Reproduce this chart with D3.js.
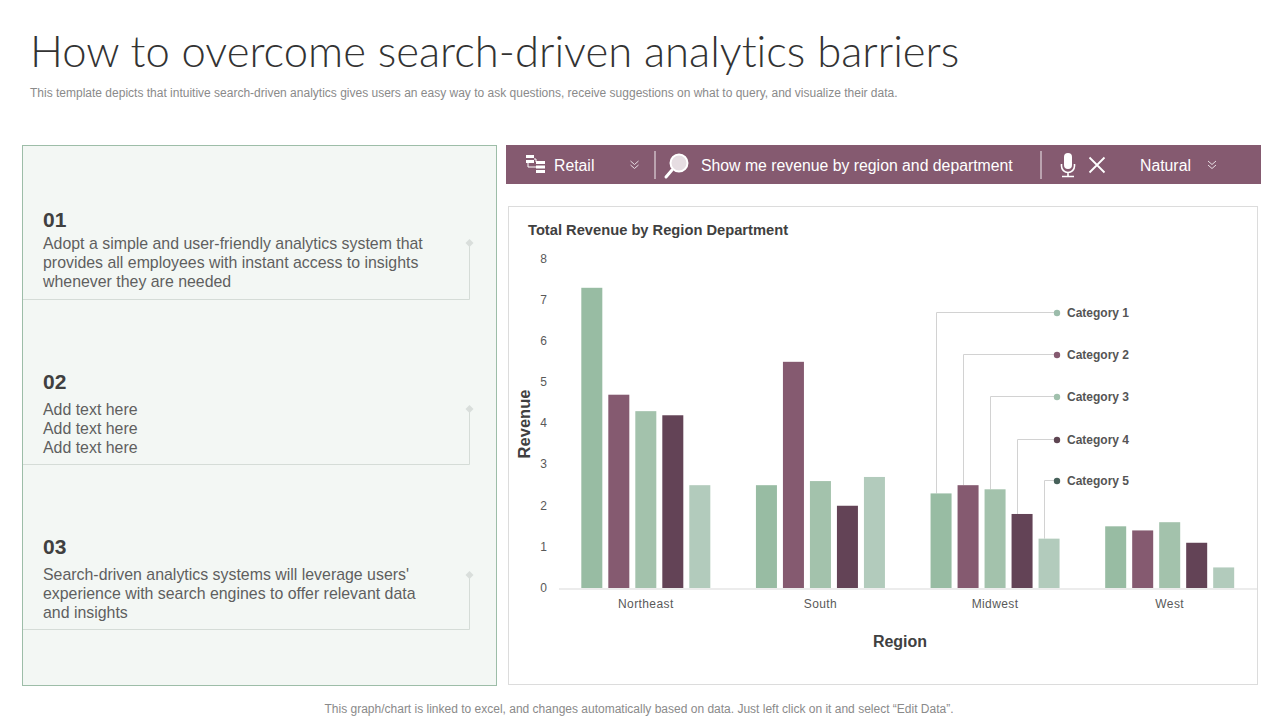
<!DOCTYPE html>
<html>
<head>
<meta charset="utf-8">
<script src="https://cdnjs.cloudflare.com/ajax/libs/d3/7.8.5/d3.min.js"></script>
<style>
  html, body { margin: 0; padding: 0; background: #fff; }
  svg { display: block; }
  text { font-family: "Liberation Sans", Arial, sans-serif; }
</style>
</head>
<body>
<div id="chart"></div>
<script>
const regions = ["Northeast", "South", "Midwest", "West"];
const categories = ["Category 1", "Category 2", "Category 3", "Category 4", "Category 5"];
const category1 = [7.3, 2.5, 2.3, 1.5];
const category2 = [4.7, 5.5, 2.5, 1.4];
const category3 = [4.3, 2.6, 2.4, 1.6];
const category4 = [4.2, 2.0, 1.8, 1.1];
const category5 = [2.5, 2.7, 1.2, 0.5];
const seriesValues = [category1, category2, category3, category4, category5];
const yTicks = [0, 1, 2, 3, 4, 5, 6, 7, 8];

const barColors = ["#98bca3", "#855a70", "#a3c2ac", "#634356", "#b2cbbc"];
const dotColors = ["#9cbcab", "#855a70", "#a0c0ac", "#5e4552", "#47615a"];
const legendY = [313, 355, 397, 440, 481];

const panelTexts = [
  { num: "01", y: 220, textY: 249, lines: ["Adopt a simple and user-friendly analytics system that", "provides all employees with instant access to insights", "whenever they are needed"], lineEnd: 299.5, dotY: 243 },
  { num: "02", y: 382, textY: 415, lines: ["Add text here", "Add text here", "Add text here"], lineEnd: 464.5, dotY: 409 },
  { num: "03", y: 547, textY: 580, lines: ["Search-driven analytics systems will leverage users'", "experience with search engines to offer relevant data", "and insights"], lineEnd: 629.5, dotY: 575 }
];

const svg = d3.select("#chart").append("svg")
  .attr("width", 1280)
  .attr("height", 720);

// heading
svg.append("text").attr("x", 30).attr("y", 67)
  .style("font-family", "Lato, sans-serif").style("font-weight", 300)
  .style("font-size", "43.6px").style("font-variant-ligatures", "none").attr("fill", "#333")
  .text("How to overcome search-driven analytics barriers");
svg.append("text").attr("x", 30).attr("y", 97)
  .style("font-size", "12px").attr("fill", "#8a8a8a")
  .text("This template depicts that intuitive search-driven analytics gives users an easy way to ask questions, receive suggestions on what to query,  and visualize their data.");

// left panel
svg.append("rect").attr("x", 22.5).attr("y", 145.5).attr("width", 474).attr("height", 540)
  .attr("fill", "#f3f7f4").attr("stroke", "#9dbda8");

panelTexts.forEach(p => {
  svg.append("text").attr("x", 43).attr("y", p.y + 7)
    .style("font-size", "21px").style("font-weight", "bold").attr("fill", "#404040")
    .text(p.num);
  svg.append("g").selectAll("text").data(p.lines).join("text")
    .attr("x", 43)
    .attr("y", (d, i) => p.textY + i * 19)
    .style("font-size", "15.9px").attr("fill", "#5f5f5f")
    .text(d => d);
  svg.append("path")
    .attr("d", `M23,${p.lineEnd}H469.5V${p.dotY}`)
    .attr("fill", "none").attr("stroke", "#d5dcd7");
  svg.append("path")
    .attr("d", `M469.5,${p.dotY - 4}l4,4l-4,4l-4,-4z`)
    .attr("fill", "#d9dedb");
});

// search bar
const bar = svg.append("g");
bar.append("rect").attr("x", 506).attr("y", 145).attr("width", 755).attr("height", 39).attr("fill", "#855a70");
const barText = (x, t) => bar.append("text").attr("x", x).attr("y", 171)
  .style("font-size", "15.8px").attr("fill", "#fff").text(t);
barText(554, "Retail");
barText(701, "Show me revenue by region and department");
barText(1140, "Natural");

[655, 1041].forEach(x => bar.append("line").attr("x1", x).attr("x2", x).attr("y1", 151).attr("y2", 179)
  .attr("stroke", "#f1ecef").attr("stroke-width", 1));

// chevrons
[634.5, 1212].forEach(x => {
  [161, 165].forEach(y => bar.append("path")
    .attr("d", `M${x - 4},${y}l4,3.5l4,-3.5`).attr("fill", "none")
    .attr("stroke", "#e8dfe4").attr("stroke-width", 1));
});

// tree icon
bar.append("path").attr("d", "M526,155h8v3h-8zM526,160h8v3h-8zM536,161h9v3h-9zM536,165.500h9v3h-9zM536,170h9v3h-9z").attr("fill", "#fff");
bar.append("path").attr("d", "M528,163v4h8M534,159h2v3").attr("fill", "none").attr("stroke", "#fff");

// magnifier icon
bar.append("circle").attr("cx", 679).attr("cy", 163).attr("r", 8.5).attr("fill", "#e6dde2").attr("stroke", "#fff").attr("stroke-width", 2);
bar.append("line").attr("x1", 672).attr("y1", 170).attr("x2", 666).attr("y2", 177).attr("stroke", "#fff").attr("stroke-width", 3).attr("stroke-linecap", "round");

// mic icon
bar.append("rect").attr("x", 1064).attr("y", 153).attr("width", 8).attr("height", 16).attr("rx", 4).attr("fill", "#fff");
bar.append("path").attr("d", "M1061.500,164v2a6.500,6.500 0 0 0 13,0v-2M1068,173v3M1062,176.500h12").attr("fill", "none").attr("stroke", "#fff").attr("stroke-width", 1.6);

// close icon
bar.append("path").attr("d", "M1089.500,157.500L1104.500,172.500M1104.500,157.500L1089.500,172.500").attr("stroke", "#fff").attr("stroke-width", 1.8);

// chart box
svg.append("rect").attr("x", 508.500).attr("y", 206.500).attr("width", 749).attr("height", 478)
  .attr("fill", "#fff").attr("stroke", "#dcdcdc");
svg.append("text").attr("x", 528).attr("y", 234.5)
  .style("font-size", "14.7px").style("font-weight", "bold").attr("fill", "#404040")
  .text("Total Revenue by Region Department");

// scales
const x0 = d3.scaleBand().domain(regions).range([558.5, 1257]);
const x1 = d3.scaleBand().domain(categories).range([0, x0.bandwidth()])
  .paddingInner(0.222).paddingOuter(0.845);
const y = d3.scaleLinear().domain([0, 8]).range([588, 259]);

// leader lines go under the bars, they start left of the bar centre
const leaders = svg.append("g");
categories.forEach((c, i) => {
  const bx = x0("Midwest") + x1(c) + x1.bandwidth() / 2 - 5.5;
  leaders.append("path")
    .attr("d", `M${Math.round(bx) + 0.5},${y(seriesValues[i][2])}V${legendY[i] - 0.5}H1056`)
    .attr("fill", "none").attr("stroke", "#d2d2d2");
});

// bars
const groups = svg.append("g").selectAll("g").data(categories).join("g")
  .attr("fill", (d, i) => barColors[i]);
groups.selectAll("rect").data((d, i) => regions.map((r, j) => ({ r, c: d, v: seriesValues[i][j] })))
  .join("rect")
  .attr("x", d => x0(d.r) + x1(d.c))
  .attr("y", d => y(d.v))
  .attr("width", x1.bandwidth())
  .attr("height", d => y(0) - y(d.v));

// axes
const xAxis = svg.append("g").attr("transform", "translate(0,588.5)")
  .call(d3.axisBottom(x0).tickSize(0).tickPadding(11));
xAxis.select(".domain").attr("stroke", "#d9d9d9");
xAxis.selectAll("text").style("font-size", "12px").style("font-family", "Liberation Sans").style("letter-spacing", "0.4px").attr("fill", "#595959");

const yAxis = svg.append("g").attr("transform", "translate(547,-0.5)")
  .call(d3.axisLeft(y).tickValues(yTicks).tickSize(0).tickPadding(0));
yAxis.select(".domain").remove();
yAxis.selectAll("text").style("font-size", "12px").style("font-family", "Liberation Sans").attr("fill", "#595959");

svg.append("text").attr("transform", "translate(530,424) rotate(-90)").attr("text-anchor", "middle")
  .style("font-size", "16.500px").style("font-weight", "bold").attr("fill", "#404040").text("Revenue");
svg.append("text").attr("x", 900).attr("y", 647).attr("text-anchor", "middle")
  .style("font-size", "16px").style("font-weight", "bold").attr("fill", "#404040").text("Region");

// legend
categories.forEach((c, i) => {
  svg.append("circle").attr("cx", 1057).attr("cy", legendY[i]).attr("r", 3.2).attr("fill", dotColors[i]);
  svg.append("text").attr("x", 1067).attr("y", legendY[i] + 4)
    .style("font-size", "12px").style("font-weight", "bold").attr("fill", "#555").text(c);
});

// footnote
svg.append("text").attr("x", 639).attr("y", 713).attr("text-anchor", "middle")
  .style("font-size", "12px").attr("fill", "#8a8a8a")
  .text("This graph/chart is linked to excel,  and changes automatically based on data. Just left click on it and select \u201CEdit Data\u201D.");
</script>
</body>
</html>
